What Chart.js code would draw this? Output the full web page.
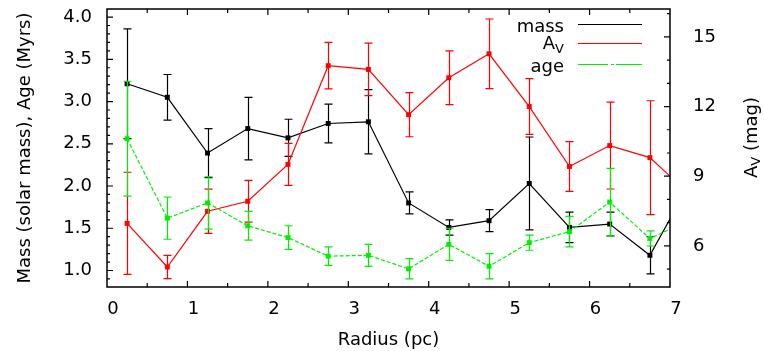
<!DOCTYPE html>
<html>
<head>
<meta charset="utf-8">
<script src="https://cdn.jsdelivr.net/npm/chart.js@4.4.1/dist/chart.umd.min.js"></script>
<style>
  html, body { margin: 0; padding: 0; background: #fff; }
  #wrap { width: 764px; height: 351px; }
</style>
</head>
<body>
<div id="wrap"><canvas id="chart" width="764" height="351"></canvas></div>
<script>
// Data
const radius = [0.25, 0.75, 1.25, 1.75, 2.25, 2.75, 3.25, 3.75, 4.25, 4.75, 5.25, 5.75, 6.25, 6.75, 7.25];
const mass    = [3.21, 3.05, 2.39, 2.68, 2.57, 2.74, 2.76, 1.80, 1.51, 1.59, 2.03, 1.51, 1.55, 1.18, 2.04];
const massErr = [0.65, 0.27, 0.29, 0.37, 0.22, 0.23, 0.38, 0.13, 0.09, 0.13, 0.55, 0.18, 0.14, 0.22, 0.20];
const av      = [6.97, 5.09, 7.49, 7.92, 9.51, 13.76, 13.60, 11.65, 13.24, 14.27, 12.00, 9.42, 10.32, 9.80, 8.20];
const avErr   = [2.20, 0.50, 0.95, 0.90, 0.90, 1.00, 1.13, 0.95, 1.16, 1.50, 1.20, 1.07, 1.87, 2.45, 1.50];
const age     = [2.56, 1.62, 1.80, 1.53, 1.39, 1.17, 1.18, 1.02, 1.31, 1.05, 1.33, 1.46, 1.81, 1.38, 1.60];
const ageErr  = [0.68, 0.25, 0.31, 0.17, 0.14, 0.11, 0.13, 0.12, 0.19, 0.15, 0.09, 0.18, 0.40, 0.09, 0.10];

// Tick labels
const xTicks = [0, 1, 2, 3, 4, 5, 6, 7];
const yTicks = [1.0, 1.5, 2.0, 2.5, 3.0, 3.5, 4.0];
const y2Ticks = [6, 9, 12, 15];

const FONT = 'DejaVu Sans';

function points(ys) {
    return radius.map((r, i) => ({ x: r, y: ys[i] }));
}

const errors = [massErr, avErr, ageErr];

// Error bars, drawn right after each dataset so the layering follows the datasets
const errorBars = {
    id: 'errorBars',
    afterDatasetDraw(chart, args) {
        const ds = chart.data.datasets[args.index];
        const errs = errors[args.index];
        const scale = chart.scales[ds.yAxisID];
        const area = chart.chartArea;
        const ctx = chart.ctx;
        ctx.save();
        ctx.beginPath();
        ctx.rect(area.left, area.top - 1, area.right - area.left, area.bottom - area.top + 2);
        ctx.clip();
        ctx.strokeStyle = ds.borderColor;
        ctx.lineWidth = 1.2;
        ctx.setLineDash([]);
        args.meta.data.forEach((pt, i) => {
            const v = ds.data[i].y;
            const yTop = scale.getPixelForValue(v + errs[i]);
            const yBot = scale.getPixelForValue(v - errs[i]);
            const x = Math.round(pt.x) + 0.5;
            ctx.beginPath();
            ctx.moveTo(x, yTop); ctx.lineTo(x, yBot);
            ctx.moveTo(x - 4, yTop); ctx.lineTo(x + 4, yTop);
            ctx.moveTo(x - 4, yBot); ctx.lineTo(x + 4, yBot);
            ctx.stroke();
        });
        ctx.restore();
    }
};

// Frame, inward ticks, right axis title and legend
const frame = {
    id: 'frame',
    afterDraw(chart) {
        const ctx = chart.ctx;
        const a = chart.chartArea;
        const sx = chart.scales.x, sy = chart.scales.y, sy2 = chart.scales.y2;
        ctx.save();
        ctx.strokeStyle = '#000';
        ctx.lineWidth = 1.5;
        ctx.strokeRect(a.left, a.top, a.right - a.left, a.bottom - a.top);
        ctx.lineWidth = 1.2;
        ctx.beginPath();
        // x ticks every 0.5 on bottom and top
        for (let k = 1; k < 14; k++) {
            const v = k / 2;
            const px = sx.getPixelForValue(v);
            const len = k % 2 === 0 ? 6 : 4;
            ctx.moveTo(px, a.bottom); ctx.lineTo(px, a.bottom - len);
            ctx.moveTo(px, a.top); ctx.lineTo(px, a.top + len);
        }
        // left ticks every 0.1, major every 0.5
        for (let k = 9; k <= 40; k++) {
            const v = k / 10;
            const py = sy.getPixelForValue(v);
            const len = k % 5 === 0 ? 6 : 3;
            ctx.moveTo(a.left, py); ctx.lineTo(a.left + len, py);
        }
        // right ticks every 1, major every 3
        for (let v = 5; v <= 16; v++) {
            const py = sy2.getPixelForValue(v);
            const len = v % 3 === 0 ? 6 : 3;
            ctx.moveTo(a.right, py); ctx.lineTo(a.right - len, py);
        }
        ctx.stroke();

        // right axis title: A_V (mag), read bottom to top
        ctx.fillStyle = '#000';
        ctx.translate(752, 178);
        ctx.rotate(-Math.PI / 2);
        ctx.textBaseline = 'middle';
        ctx.textAlign = 'left';
        ctx.font = '18px ' + FONT;
        ctx.fillText('A', 0, 0);
        let w = ctx.measureText('A').width;
        ctx.font = '13px ' + FONT;
        ctx.fillText('V', w, 5);
        w += ctx.measureText('V').width;
        ctx.font = '18px ' + FONT;
        ctx.fillText(' (mag)', w, 0);
        ctx.setTransform(1, 0, 0, 1, 0, 0);

        // legend
        const rows = [
            { label: 'mass', color: '#000', y: 24.5, dash: [] },
            { label: 'A', sub: 'V', color: '#ff0000', y: 43.5, dash: [] },
            { label: 'age', color: '#00ee00', y: 64.5, dash: [30, 3, 3, 2] }
        ];
        ctx.textAlign = 'right';
        ctx.textBaseline = 'alphabetic';
        rows.forEach(r => {
            ctx.fillStyle = '#000';
            if (r.sub) {
                ctx.font = '13px ' + FONT;
                const sw = ctx.measureText(r.sub).width;
                ctx.fillText(r.sub, 564, r.y + 9);
                ctx.font = '18px ' + FONT;
                ctx.fillText(r.label, 564 - sw, r.y + 5);
            } else {
                ctx.font = '18px ' + FONT;
                ctx.fillText(r.label, 564, r.y + 7);
            }
            ctx.strokeStyle = r.color;
            ctx.lineWidth = 1.2;
            ctx.setLineDash(r.dash);
            ctx.beginPath();
            ctx.moveTo(578, r.y); ctx.lineTo(642, r.y);
            ctx.stroke();
        });
        ctx.restore();
    }
};

function fixTicks(values) {
    return function (scale) {
        scale.ticks = values.map(v => ({ value: v }));
    };
}

const ctx = document.getElementById('chart').getContext('2d');
new Chart(ctx, {
    type: 'line',
    data: {
        datasets: [
            {
                label: 'mass', data: points(mass), yAxisID: 'y', order: 3,
                borderColor: '#000', backgroundColor: '#000', borderWidth: 1.2,
                pointStyle: 'rect', pointRadius: 3.5, pointBorderWidth: 0
            },
            {
                label: 'A_V', data: points(av), yAxisID: 'y2', order: 2,
                borderColor: '#ff0000', backgroundColor: '#ff0000', borderWidth: 1.2,
                pointStyle: 'rect', pointRadius: 3.5, pointBorderWidth: 0
            },
            {
                label: 'age', data: points(age), yAxisID: 'y', order: 1,
                borderColor: '#00ee00', backgroundColor: '#00ee00', borderWidth: 1.2,
                borderDash: [4, 2],
                pointStyle: 'rect', pointRadius: 3.5, pointBorderWidth: 0
            }
        ]
    },
    options: {
        responsive: false,
        animation: false,
        layout: { padding: { top: 9, left: 0, right: 0, bottom: 0 } },
        plugins: { legend: { display: false }, tooltip: { enabled: false } },
        scales: {
            x: {
                type: 'linear', position: 'bottom', min: 0, max: 7,
                grid: { display: false, drawTicks: false }, border: { display: false },
                afterBuildTicks: fixTicks(xTicks),
                afterFit(s) { s.height = 64; s.paddingLeft = 0; s.paddingRight = 0; },
                ticks: { color: '#000', font: { family: FONT, size: 18 }, padding: 12, labelOffset: 6,
                         maxRotation: 0, callback: v => String(v) },
                title: { display: true, text: 'Radius (pc)', color: '#000',
                         font: { family: FONT, size: 18 }, padding: { top: 1, bottom: 0 } }
            },
            y: {
                type: 'linear', position: 'left', min: 0.805, max: 4.095,
                grid: { display: false, drawTicks: false }, border: { display: false },
                afterBuildTicks: fixTicks(yTicks),
                afterFit(s) { s.width = 107; s.paddingTop = 0; s.paddingBottom = 0; },
                ticks: { color: '#000', font: { family: FONT, size: 18 }, padding: 15,
                         callback: v => v.toFixed(1) },
                title: { display: true, text: 'Mass (solar mass), Age (Myrs)', color: '#000',
                         font: { family: FONT, size: 18 }, padding: { top: 15, bottom: 0 } }
            },
            y2: {
                type: 'linear', position: 'right', min: 4.23, max: 16.2,
                grid: { display: false, drawTicks: false }, border: { display: false },
                afterBuildTicks: fixTicks(y2Ticks),
                afterFit(s) { s.width = 94; s.paddingTop = 0; s.paddingBottom = 0; },
                ticks: { color: '#000', font: { family: FONT, size: 18 }, padding: 23,
                         callback: v => String(v) }
            }
        }
    },
    plugins: [errorBars, frame]
});
</script>
</body>
</html>
